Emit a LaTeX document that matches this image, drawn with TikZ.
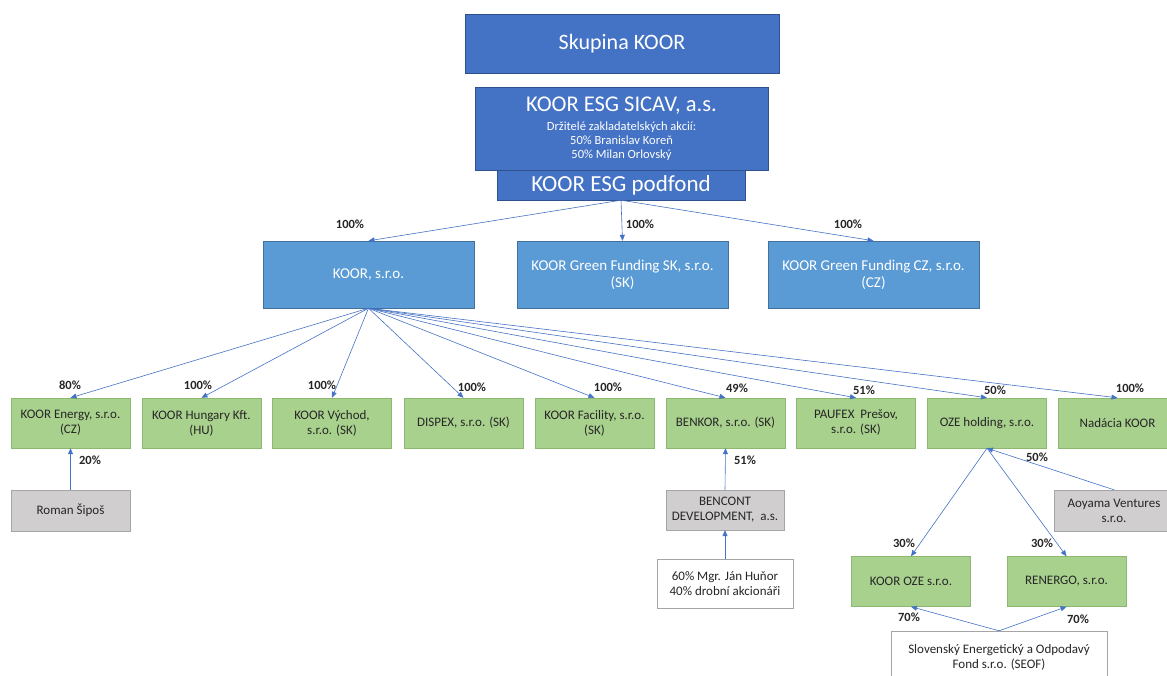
\documentclass[tikz,border=0pt]{standalone}
\usepackage{fontspec}
\setmainfont{Carlito}
\usetikzlibrary{arrows.meta,positioning}

\definecolor{groupblue}{HTML}{4472C4}
\definecolor{groupline}{HTML}{2F528F}
\definecolor{fundblue}{HTML}{5B9BD5}
\definecolor{fundline}{HTML}{41719C}
\definecolor{firmgreen}{HTML}{A9D18E}
\definecolor{firmline}{HTML}{8DB870}
\definecolor{ownergrey}{HTML}{D0CECE}
\definecolor{ownerline}{HTML}{A5A5A5}
\definecolor{sharecolor}{HTML}{4472C4}

\tikzset{
  groupbox/.style={draw=groupline, fill=groupblue, text=white, align=center, inner sep=0pt},
  fundbox/.style={draw=fundline, fill=fundblue, text=white, align=center, inner sep=0pt,
    minimum width=211pt, minimum height=67pt, font=\fontsize{15}{17}\selectfont},
  firmbox/.style={draw=firmline, fill=firmgreen, text=black!85, align=center, inner sep=0pt,
    minimum width=119pt, minimum height=50pt, font=\fontsize{13}{15}\selectfont},
  ownerbox/.style={draw=ownerline, fill=ownergrey, text=black!85, align=center, inner sep=0pt,
    minimum width=119pt, minimum height=41pt, font=\fontsize{13}{15}\selectfont},
  holderbox/.style={draw=ownerline, fill=white, text=black!85, align=center, inner sep=0pt,
    font=\fontsize{13}{15}\selectfont},
  share/.style={-{Triangle[length=6pt,width=5pt]}, sharecolor, line width=0.6pt},
  pct/.style={font=\bfseries\fontsize{12.5}{14}\selectfont, text=black!85, inner sep=1pt},
}

\begin{document}
\begin{tikzpicture}[x=1pt,y=-1pt]
\useasboundingbox (0,0) rectangle (1167,675);

% Fund structure on top
\node[groupbox, minimum width=314pt, minimum height=59pt, font=\fontsize{22}{26}\selectfont]
  (skupina) at (622,43.5) {Skupina KOOR};
\node[groupbox, minimum width=293pt, minimum height=83pt, font=\fontsize{12.5}{14}\selectfont]
  (sicav) at (621.5,128.5) {{\fontsize{22.5}{26}\selectfont KOOR ESG SICAV, a.s.}\\[5pt]
  Držitelé zakladatelských akcií:\\ 50\% Branislav Koreň\\ 50\% Milan Orlovský};
\node[groupbox, minimum width=248pt, minimum height=30pt, font=\fontsize{23}{26}\selectfont]
  (podfond) at (621,185) {KOOR ESG podfond};

% Second level
\node[fundbox] (koor) at (368.5,274.5) {KOOR, s.r.o.};
\node[fundbox] (greensk) at (622.5,274.5) {KOOR Green Funding SK, s.r.o.\\(SK)};
\node[fundbox] (greencz) at (873.5,274.5) {KOOR Green Funding CZ, s.r.o.\\(CZ)};

\foreach \name/\lx in {koor/350,greensk/640,greencz/848} {
  \draw[share] (podfond.south) -- (\name.north);
  \node[pct] (p\name) at (\lx,224) {100\%};
}

% Subsidiaries of KOOR, s.r.o.
\foreach \name/\cx/\txt/\val/\lx/\ly in {
    energy/70.5/{KOOR Energy, s.r.o.\\(CZ)}/80/70/385,
    hungary/201.5/{KOOR Hungary Kft.\\(HU)}/100/198/385,
    vychod/332/{KOOR Východ,\\s.r.o. (SK)}/100/322/385,
    dispex/463.5/{DISPEX, s.r.o. (SK)}/100/472/387,
    facility/594.5/{KOOR Facility, s.r.o.\\(SK)}/100/608/387,
    benkor/725.5/{BENKOR,\ s.r.o. (SK)}/49/737/388,
    paufex/856/{PAUFEX\ \ Prešov,\\s.r.o. (SK)}/51/864/390,
    oze/987/{OZE holding, s.r.o.}/50/995/390,
    nadacia/1117.5/{Nadácia KOOR}/100/1130/388} {
  \node[firmbox] (\name) at (\cx,423) {\txt};
  \draw[share] (koor.south) -- (\name.north);
  \node[pct] (p\name) at (\lx,\ly) {\val\%};
}

% Minority owners
\node[ownerbox] (sipos) at (70.5,510.5) {Roman Šipoš};
\draw[share] (sipos.north) -- (energy.south);
\node[pct] (psipos) at (90,460) {20\%};

\node[ownerbox, minimum width=118pt, minimum height=40pt] (bencont) at (725,510) {BENCONT\\DEVELOPMENT,\ \ a.s.};
\draw[share] (bencont.north) -- (benkor.south);
\node[pct] (pbencont) at (745,460) {51\%};
\node[holderbox, minimum width=136pt, minimum height=49pt] (hunor) at (725,583.5) {60\% Mgr. Ján Huňor\\40\% drobní akcionáři};
\draw[share] (hunor.north) -- (bencont.south);

% OZE holding
\node[ownerbox] (aoyama) at (1114,510.5) {Aoyama Ventures\\s.r.o.};
\draw[share] (aoyama.north) -- (oze.south);
\node[pct] (paoyama) at (1037,457) {50\%};

\node[firmbox] (kooroze) at (911,581.5) {KOOR OZE s.r.o.};
\node[firmbox] (renergo) at (1066.5,581.5) {RENERGO,\ s.r.o.};
\draw[share] (oze.south) -- (kooroze.north);
\draw[share] (oze.south) -- (renergo.north);
\node[pct] (pkooroze) at (904,543) {30\%};
\node[pct] (prenergo) at (1042,543) {30\%};

\node[holderbox, minimum width=216pt, minimum height=52pt] (seof) at (999,657) {Slovenský Energetický a Odpodavý\\Fond s.r.o. (SEOF)};
\draw[share] (seof.north) -- (kooroze.south);
\draw[share] (seof.north) -- (renergo.south);
\node[pct] (pseofa) at (909,617) {70\%};
\node[pct] (pseofb) at (1078,619) {70\%};

\end{tikzpicture}
\end{document}
